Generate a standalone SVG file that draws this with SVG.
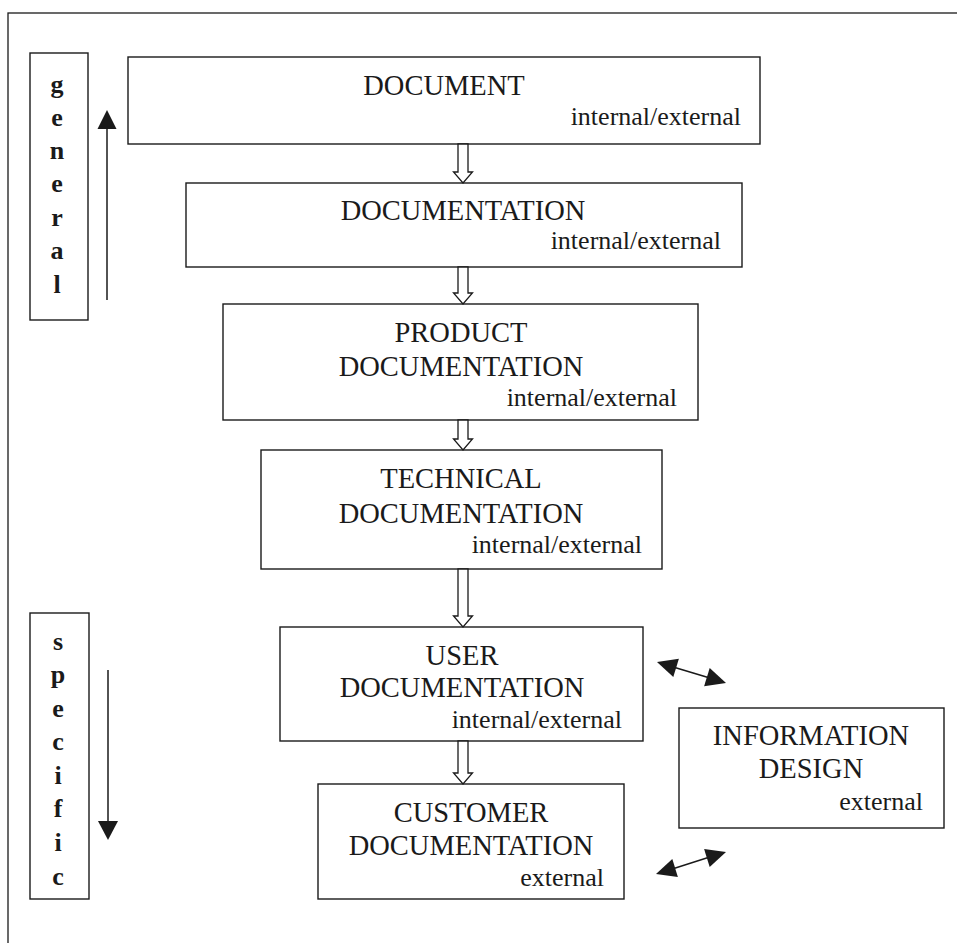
<svg xmlns="http://www.w3.org/2000/svg" width="957" height="943" viewBox="0 0 957 943">
<style>
.box{fill:#fff;stroke:#1a1a1a;stroke-width:1.4}
.t{font-family:"Liberation Serif","Times New Roman",serif;font-size:28.5px;fill:#1a1a1a;text-anchor:middle}
.s{font-family:"Liberation Serif","Times New Roman",serif;font-size:26px;fill:#1a1a1a;text-anchor:end}
.v{font-family:"Liberation Serif","Times New Roman",serif;font-size:26px;font-weight:bold;fill:#1a1a1a;text-anchor:middle}
.ha{fill:#fff;stroke:#1a1a1a;stroke-width:1.3;stroke-linejoin:miter}
.ln{stroke:#1a1a1a;stroke-width:1.5;fill:none}
.hd{fill:#1a1a1a;stroke:none}
</style>
<rect width="957" height="943" fill="#fff"/>
<rect id="frame" x="8" y="13" width="970" height="960" fill="none" stroke="#1a1a1a" stroke-width="1.3"/>

<g id="general">
<rect class="box" x="30" y="53" width="58" height="267"/>
<text class="v" x="57" y="93">g</text>
<text class="v" x="57" y="126">e</text>
<text class="v" x="57" y="159">n</text>
<text class="v" x="57" y="192">e</text>
<text class="v" x="57" y="226">r</text>
<text class="v" x="57" y="259">a</text>
<text class="v" x="57" y="293">l</text>
</g>

<g id="specific">
<rect class="box" x="30" y="613" width="59" height="286"/>
<text class="v" x="58" y="650">s</text>
<text class="v" x="58" y="683">p</text>
<text class="v" x="58" y="717">e</text>
<text class="v" x="58" y="750">c</text>
<text class="v" x="58" y="784">i</text>
<text class="v" x="58" y="817">f</text>
<text class="v" x="58" y="851">i</text>
<text class="v" x="58" y="885">c</text>
</g>

<g id="document">
<rect class="box" x="128" y="57" width="632" height="87"/>
<text class="t" x="444" y="95">DOCUMENT</text>
<text class="s" x="741" y="125">internal/external</text>
</g>

<g id="documentation">
<rect class="box" x="186" y="183" width="556" height="84"/>
<text class="t" x="463" y="220">DOCUMENTATION</text>
<text class="s" x="721" y="249">internal/external</text>
</g>

<g id="product">
<rect class="box" x="223" y="304" width="475" height="116"/>
<text class="t" x="461" y="342">PRODUCT</text>
<text class="t" x="461" y="376">DOCUMENTATION</text>
<text class="s" x="677" y="406">internal/external</text>
</g>

<g id="technical">
<rect class="box" x="261" y="450" width="401" height="119"/>
<text class="t" x="461" y="488">TECHNICAL</text>
<text class="t" x="461" y="523">DOCUMENTATION</text>
<text class="s" x="642" y="553">internal/external</text>
</g>

<g id="user">
<rect class="box" x="280" y="627" width="363" height="114"/>
<text class="t" x="462" y="665">USER</text>
<text class="t" x="462" y="697">DOCUMENTATION</text>
<text class="s" x="622" y="728">internal/external</text>
</g>

<g id="customer">
<rect class="box" x="318" y="784" width="306" height="115"/>
<text class="t" x="471" y="822">CUSTOMER</text>
<text class="t" x="471" y="855">DOCUMENTATION</text>
<text class="s" x="604" y="886">external</text>
</g>

<g id="information">
<rect class="box" x="679" y="708" width="265" height="120"/>
<text class="t" x="811" y="745">INFORMATION</text>
<text class="t" x="811" y="778">DESIGN</text>
<text class="s" x="923" y="810">external</text>
</g>

<g id="connectors">
<path class="ha" d="M458,144 V172 H453.5 L463,183 L472.5,172 H468 V144 Z"/>
<path class="ha" d="M458,267 V293 H453.5 L463,304 L472.5,293 H468 V267 Z"/>
<path class="ha" d="M458,420 V439 H453.5 L463,450 L472.5,439 H468 V420 Z"/>
<path class="ha" d="M458,569 V616 H453.5 L463,627 L472.5,616 H468 V569 Z"/>
<path class="ha" d="M458,741 V773 H453.5 L463,784 L472.5,773 H468 V741 Z"/>

<line class="ln" x1="107" y1="300" x2="107" y2="126"/>
<polygon class="hd" points="107,110 97.5,129 116.5,129"/>
<line class="ln" x1="108" y1="670" x2="108" y2="824"/>
<polygon class="hd" points="108,840 98,821 118,821"/>

<line class="ln" x1="674" y1="667.2" x2="709" y2="677.8"/>
<polygon class="hd" points="657,662 678.9,658.7 673.3,676.9"/>
<polygon class="hd" points="726,683 704.1,686.3 709.7,668.1"/>
<line class="ln" x1="673" y1="868.7" x2="709" y2="857.3"/>
<polygon class="hd" points="656,874 677.9,877.1 672.3,858.9"/>
<polygon class="hd" points="726,852 709.7,867.1 704.1,848.9"/>
</g>
</svg>
